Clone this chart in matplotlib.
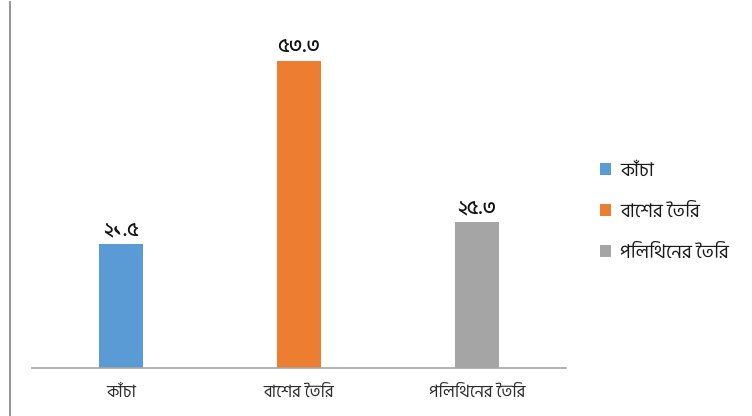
import matplotlib
matplotlib.use("Agg")
import matplotlib.pyplot as plt
from matplotlib.patches import Patch
from matplotlib.lines import Line2D

plt.rcParams['font.family'] = ['Hind Siliguri', 'DejaVu Sans']

# house type vs share (%)
categories = ['কাঁচা', 'বাশের তৈরি', 'পলিথিনের তৈরি']
values = [21.5, 53.3, 25.3]
colors = ['#5B9BD5', '#ED7D31', '#A5A5A5']

bn_digits = str.maketrans('0123456789', '০১২৩৪৫৬৭৮৯')

# matplotlib has no Indic shaping, so put pre-base vowel signs
# in front of their consonant before drawing
def visual(s):
    pre = '\u09bf\u09c7\u09c8'
    out = list(s)
    i = 1
    while i < len(out):
        if out[i] in pre:
            out[i - 1], out[i] = out[i], out[i - 1]
        i += 1
    return ''.join(out)

fig = plt.figure(figsize=(7.52, 4.16), dpi=100)
ax = fig.add_axes([32 / 752, 1 - 368 / 416, 534 / 752, 348 / 416])

x = range(len(categories))
bars = ax.bar(x, values, width=0.247, color=colors)
ax.set_xlim(-0.5, 2.5)
ax.set_ylim(0, 60.4)

for b, v in zip(bars, values):
    ax.text(b.get_x() + b.get_width() / 2, v + 0.9, ('%.1f' % v).translate(bn_digits),
            ha='center', va='bottom', fontsize=14.5, fontweight='medium', color='#111111')

ax.set_xticks(list(x))
ax.set_xticklabels([visual(c) for c in categories], fontsize=12, color='#2b2b2b')
ax.tick_params(axis='x', length=0, pad=12)
ax.set_yticks([])
for s in ['top', 'right', 'left']:
    ax.spines[s].set_visible(False)
ax.spines['bottom'].set_color('#A6A6A6')
ax.spines['bottom'].set_linewidth(1.2)

handles = [Patch(facecolor=c, edgecolor='none') for c in colors]
fig.legend(handles, [visual(c) for c in categories], loc='upper left',
           bbox_to_anchor=(583 / 752, 1 - 145 / 416), frameon=False,
           fontsize=13.5, handlelength=0.6, handleheight=0.6, handletextpad=0.5,
           labelspacing=1.22, labelcolor='#1a1a1a')

# outer frame edge on the left
fig.add_artist(Line2D([10 / 752, 10 / 752], [0, 1 - 2 / 416], color='#8C8C8C', lw=1.3))

fig.savefig('out.png', dpi=100)
